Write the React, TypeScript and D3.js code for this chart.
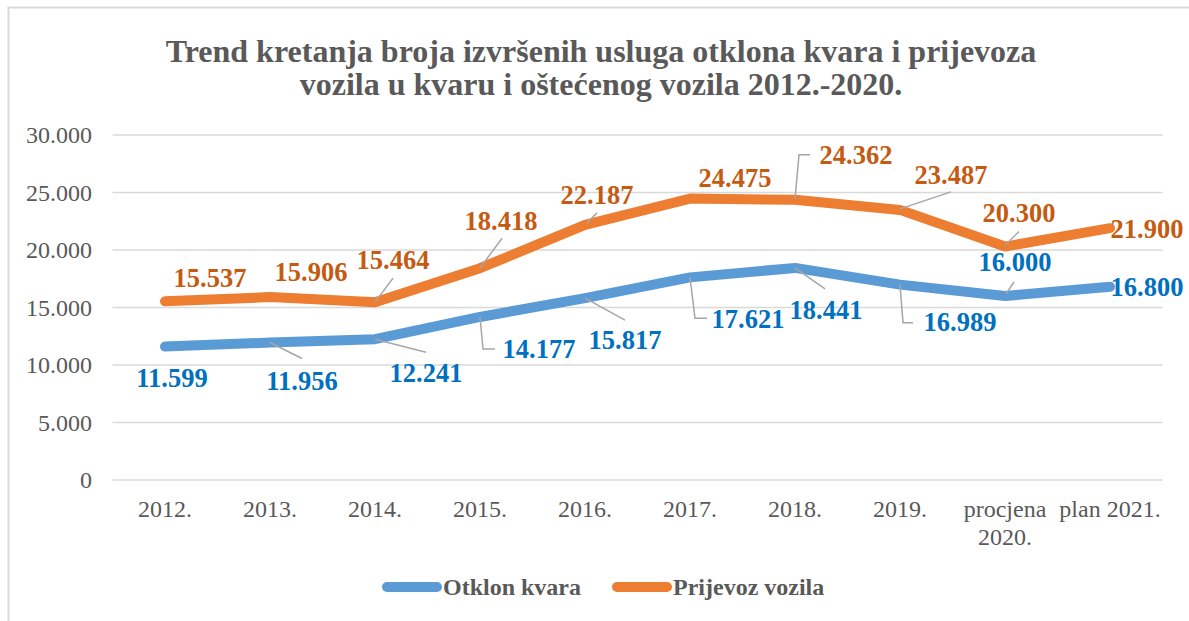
import React from "react";
import * as d3 from "d3";

const categories: string[][] = [
  ["2012."], ["2013."], ["2014."], ["2015."], ["2016."], ["2017."], ["2018."], ["2019."],
  ["procjena", "2020."], ["plan 2021."],
];
const otklonKvara: number[] = [11599, 11956, 12241, 14177, 15817, 17621, 18441, 16989, 16000, 16800];
const prijevozVozila: number[] = [15537, 15906, 15464, 18418, 22187, 24475, 24362, 23487, 20300, 21900];
const yTicks: number[] = [0, 5000, 10000, 15000, 20000, 25000, 30000];
const titleLines: string[] = [
  "Trend kretanja broja izvršenih usluga otklona kvara i prijevoza",
  "vozila u kvaru i oštećenog vozila 2012.-2020.",
];

// label placement (pixel offsets from data point) and leader lines
const orangeLabelOffsets: [number, number][] = [
  [45, -24], [41, -25], [18, -42], [21, -47], [12, -30], [45, -21], [61, -45], [51, -35], [14, -34], [37, 1],
];
const orangeLeaders: ([number, number][] | null)[] = [
  null, null, [[0, 0], [18, -24]], [[0, 0], [22, -30]], [[2, -2], [12, -12]], null,
  [[0, -1], [4, -45], [15, -45]], [[0, -1], [51, -18]], [[0, -1], [14, -15]], null,
];
const blueLabelOffsets: [number, number][] = [
  [7, 31], [32, 38], [51, 33], [59, 32], [40, 42], [58, 41], [31, 42], [60, 37], [10, -34], [37, 0],
];
const blueLeaders: ([number, number][] | null)[] = [
  null, [[0, 0], [32, 16]], [[0, 0], [51, 13]], [[0, 0], [3, 32], [15, 32]], [[0, 0], [40, 22]],
  [[0, 0], [5, 41], [17, 41]], [[0, 0], [30, 21]], [[0, 0], [3, 38], [13, 38]], [[1, -2], [9, -14]], null,
];

const W = 1189;
const H = 621;
const FONT = "'Liberation Serif', 'Times New Roman', serif";
const GREY = "#595959";

const fmt = (v: number) => {
  if (v === 0) return "0";
  const s = String(v);
  return s.replace(/\B(?=(\d{3})+(?!\d))/g, ".");
};

export default function App() {
  const x = d3
    .scaleBand<number>()
    .domain(d3.range(categories.length))
    .range([112.5, 1162.5]);
  const cx = (i: number) => (x(i) as number) + x.bandwidth() / 2;
  const y = d3.scaleLinear().domain([0, 30000]).range([480, 135]);

  const line = d3
    .line<number>()
    .x((_, i) => cx(i))
    .y((d) => y(d));

  const series = [
    { name: "Otklon kvara", values: otklonKvara, color: "#5B9BD5", labelColor: "#0070C0", offsets: blueLabelOffsets, leaders: blueLeaders },
    { name: "Prijevoz vozila", values: prijevozVozila, color: "#ED7D31", labelColor: "#C55A11", offsets: orangeLabelOffsets, leaders: orangeLeaders },
  ];

  const leaderLine = d3.line<[number, number]>().x((d) => d[0]).y((d) => d[1]);

  return (
    <svg
      width={W}
      height={H}
      style={{ position: "absolute", left: 0, top: 0, background: "#fff" }}
      fontFamily={FONT}
    >
      <rect x={8.5} y={7.5} width={W + 20} height={H + 20} fill="#fff" stroke="#D9D9D9" strokeWidth={2} />
      {titleLines.map((t, i) => (
        <text key={i} x={601} y={62 + i * 33} textAnchor="middle" fontSize={32} fontWeight="bold" fill={GREY}>
          {t}
        </text>
      ))}
      {yTicks.map((t) => (
        <g key={t}>
          <line x1={112.5} x2={1162.5} y1={y(t)} y2={y(t)} stroke="#D9D9D9" strokeWidth={1.5} />
          <text x={92} y={y(t)} dy="0.35em" textAnchor="end" fontSize={24} fill={GREY}>
            {fmt(t)}
          </text>
        </g>
      ))}
      {categories.map((c, i) => (
        <text key={i} x={cx(i)} y={517} textAnchor="middle" fontSize={24} fill={GREY}>
          {c.map((l, j) => (
            <tspan key={j} x={cx(i)} dy={j === 0 ? 0 : 28}>
              {l}
            </tspan>
          ))}
        </text>
      ))}
      {series.map((s) => (
        <path
          key={s.name}
          d={line(s.values) as string}
          fill="none"
          stroke={s.color}
          strokeWidth={10}
          strokeLinecap="round"
          strokeLinejoin="round"
        />
      ))}
      {series.map((s) =>
        s.values.map((v, i) => {
          const px = cx(i);
          const py = y(v);
          const ld = s.leaders[i];
          return ld ? (
            <path
              key={s.name + "l" + i}
              d={leaderLine(ld.map(([a, b]) => [px + a, py + b] as [number, number])) as string}
              fill="none"
              stroke="#A6A6A6"
              strokeWidth={1.5}
            />
          ) : null;
        })
      )}
      {series.map((s) =>
        s.values.map((v, i) => {
          const [dx, dy] = s.offsets[i];
          return (
            <text
              key={s.name + "t" + i}
              x={cx(i) + dx}
              y={y(v) + dy}
              dy="0.35em"
              textAnchor="middle"
              fontSize={26.5}
              fontWeight="bold"
              fill={s.labelColor}
            >
              {fmt(v)}
            </text>
          );
        })
      )}
      {/* legend */}
      {series.map((s, i) => {
        const lx = i === 0 ? 382 : 612;
        return (
          <g key={s.name}>
            <line x1={lx + 5} x2={lx + 55} y1={587} y2={587} stroke={s.color} strokeWidth={10} strokeLinecap="round" />
            <text x={lx + 61} y={587} dy="0.35em" fontSize={24} fontWeight="bold" fill={GREY}>
              {s.name}
            </text>
          </g>
        );
      })}
    </svg>
  );
}
